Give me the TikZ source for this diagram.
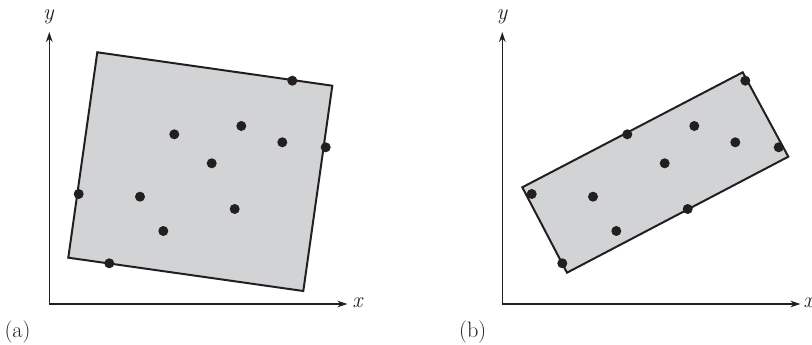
\documentclass[tikz,border=0pt]{standalone}
\usepackage{fontspec}
\usepackage{tikz}
\usetikzlibrary{arrows.meta}
\definecolor{inkblack}{HTML}{231F20}
\definecolor{boxfill}{HTML}{D1D3D4}
\tikzset{
  axisline/.style={inkblack, line width=1pt, -{Stealth[length=3mm, width=2mm]}},
  hullbox/.style={draw=inkblack, fill=boxfill, line width=1.7pt, line join=miter},
  axislab/.style={font=\fontsize{19}{22}\selectfont, text=inkblack, inner sep=0pt},
}
\newcommand{\ptset}{243/223.3, 192/178, 125/169.7, 233/161.7, 276.4/156.7,
  162.4/140.7, 29.4/110, 90.7/107.3, 185.4/95, 114/73, 60/40.7}

\begin{document}
\begin{tikzpicture}[x=0.3mm, y=0.3mm]
  \useasboundingbox (-49.3,-41) rectangle (762.7,304);
  % (a) box with sides along the axes directions
  \begin{scope}
    \coordinate (oA) at (0,0);
    \coordinate (yA) at (0,272);
    \coordinate (xA) at (298,0);
    \filldraw[hullbox] (48,251.7) -- (283,218.3) -- (254,13) -- (19,46.3) -- cycle;
    \draw[axisline] (oA) -- (yA);
    \draw[axisline] (oA) -- (xA);
    \foreach \px/\py in \ptset
      {\fill[inkblack] (\px,\py) circle (5);}
    \node[axislab] (ylabA) at (-1,287.3) {\itshape y};
    \node[axislab] (xlabA) at (308,1) {\itshape x};
    \node[axislab] (tagA) at (-31.8,-28) {(a)};
  \end{scope}
  % (b) minimum-area box
  \begin{scope}[shift={(453,0)}]
    \coordinate (oB) at (0,0);
    \coordinate (yB) at (0,272);
    \coordinate (xB) at (298,0);
    \filldraw[hullbox] (20,116.7) -- (240.4,231.7) -- (286,147.3) -- (64.7,31.3) -- cycle;
    \draw[axisline] (oB) -- (yB);
    \draw[axisline] (oB) -- (xB);
    \foreach \px/\py in \ptset
      {\fill[inkblack] (\px,\py) circle (5);}
    \node[axislab] (ylabB) at (-0.3,287.3) {\itshape y};
    \node[axislab] (xlabB) at (306,1) {\itshape x};
    \node[axislab] (tagB) at (-29.6,-28) {(b)};
  \end{scope}
\end{tikzpicture}
\end{document}
